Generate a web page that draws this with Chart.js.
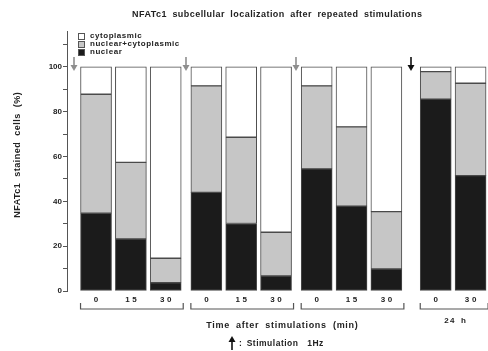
<!DOCTYPE html>
<html>
<head>
<meta charset="utf-8">
<script src="https://cdn.jsdelivr.net/npm/chart.js@4.4.0/dist/chart.umd.min.js"></script>
<style>
  html, body { margin: 0; padding: 0; background: #fff; }
</style>
</head>
<body>
<canvas id="myCanvas" width="488" height="351"></canvas>
<script>
// values (% of stained cells)
const timeLabels = ["0", "15", "30", "0", "15", "30", "0", "15", "30", "0", "30"];
const groupOf = [0, 0, 0, 1, 1, 1, 2, 2, 2, 3, 3];
const groupCaptions = ["", "", "", "24 h"];
const nuclear = [34.7, 23.2, 3.7, 44.0, 30.1, 6.7, 54.5, 37.9, 9.8, 85.6, 51.5];
const nuclearCyto = [53.1, 34.2, 10.9, 47.5, 38.5, 19.5, 37.0, 35.3, 25.6, 12.3, 41.2];
const cytoplasmic = [12.2, 42.6, 85.4, 8.5, 31.4, 73.8, 8.5, 26.8, 64.6, 2.1, 7.3];
const yTickLabels = [0, 20, 40, 60, 80, 100];

// spacing of bars on a fine category grid (layout only)
const LEAD = 10, STEP = 12, GROUP_STEP = [14, 14, 17], TRAIL = 6;

const FONT = "'Liberation Sans', Arial, sans-serif";
const GRAY = "#c6c6c6";
const BLACK = "#1b1b1b";
const EDGE = "#4a4a4a";

// place each bar on its slot
const slotOf = [];
timeLabels.forEach((t, i) => {
  if (i === 0) slotOf.push(LEAD);
  else if (groupOf[i] !== groupOf[i - 1]) slotOf.push(slotOf[i - 1] + GROUP_STEP[groupOf[i] - 1]);
  else slotOf.push(slotOf[i - 1] + STEP);
});
const nSlots = slotOf[slotOf.length - 1] + TRAIL + 1;
const slotLabels = new Array(nSlots).fill("");
slotOf.forEach((s, i) => { slotLabels[s] = timeLabels[i]; });

function spread(values) {
  const out = new Array(nSlots).fill(null);
  slotOf.forEach((s, i) => { out[s] = values[i]; });
  return out;
}

function text(ctx, str, x, y, opt) {
  ctx.save();
  ctx.font = opt.font;
  ctx.fillStyle = opt.color || "#111";
  ctx.textAlign = opt.align || "left";
  ctx.textBaseline = "middle";
  ctx.letterSpacing = (opt.ls || 0) + "px";
  if ("wordSpacing" in ctx) ctx.wordSpacing = (opt.ws || 0) + "px";
  let dx = 0;
  if (opt.align === "center") dx = (opt.ls || 0) / 2;
  if (opt.rotate) {
    ctx.translate(x, y);
    ctx.rotate(opt.rotate);
    ctx.fillText(str, dx, 0);
  } else {
    ctx.fillText(str, x + dx, y);
  }
  ctx.restore();
}

function arrow(ctx, x, yFrom, yTip, color) {
  const dir = yTip > yFrom ? 1 : -1;
  ctx.save();
  ctx.strokeStyle = color;
  ctx.fillStyle = color;
  ctx.lineWidth = 1.6;
  ctx.beginPath();
  ctx.moveTo(x, yFrom);
  ctx.lineTo(x, yTip - dir * 5);
  ctx.stroke();
  ctx.beginPath();
  ctx.moveTo(x - 3.5, yTip - dir * 6);
  ctx.lineTo(x + 3.5, yTip - dir * 6);
  ctx.lineTo(x, yTip);
  ctx.closePath();
  ctx.fill();
  ctx.restore();
}

const decorations = {
  id: "decorations",
  afterDraw(chart) {
    const ctx = chart.ctx;
    const area = chart.chartArea;
    const xs = chart.scales.x;
    const half = 15.5;

    // title
    text(ctx, "NFATc1 subcellular localization after repeated stimulations",
      277, 15,
      { font: "bold 9px " + FONT, align: "center", ls: 0.45, ws: 2.5, color: "#222" });

    // y axis title
    text(ctx, "NFATc1 stained cells (%)", 18, 155,
      { font: "bold 9px " + FONT, align: "center", ls: 0.5, ws: 3, color: "#222", rotate: -Math.PI / 2 });

    // legend
    const legend = [["cytoplasmic", "#ffffff"], ["nuclear+cytoplasmic", GRAY], ["nuclear", BLACK]];
    legend.forEach((item, k) => {
      const cy = 36 + k * 8;
      ctx.save();
      ctx.fillStyle = item[1];
      ctx.fillRect(78, cy - 3, 6, 6);
      ctx.strokeStyle = "#555";
      ctx.lineWidth = 1;
      ctx.strokeRect(78.5, cy - 2.5, 6, 6);
      ctx.restore();
      text(ctx, item[0], 90, cy, { font: "bold 8px " + FONT, ls: 0.55, color: "#222" });
    });

    // x labels, brackets, arrows
    const groups = [...new Set(groupOf)];
    groups.forEach(g => {
      const idx = groupOf.map((v, i) => v === g ? i : -1).filter(i => i >= 0);
      const first = idx[0], last = idx[idx.length - 1];
      const left = xs.getPixelForValue(slotOf[first]) - half;
      const right = xs.getPixelForValue(slotOf[last]) + half + 2;

      const prevRight = g === 0 ? area.left : xs.getPixelForValue(slotOf[first - 1]) + half;
      const ax = Math.round((prevRight + left) / 2);
      arrow(ctx, ax, area.top + 26, area.top + 40, g === groups.length - 1 ? "#111" : "#8e8e8e");

      ctx.save();
      ctx.strokeStyle = "#555";
      ctx.lineWidth = 1.2;
      ctx.beginPath();
      ctx.moveTo(left, area.bottom + 12);
      ctx.lineTo(left, area.bottom + 18);
      ctx.lineTo(right, area.bottom + 18);
      ctx.lineTo(right, area.bottom + 12);
      ctx.stroke();
      ctx.restore();

      if (groupCaptions[g]) {
        text(ctx, groupCaptions[g], (left + right) / 2 + 1, area.bottom + 30,
          { font: "bold 8px " + FONT, align: "center", ls: 1.2, ws: 2, color: "#222" });
      }
    });

    timeLabels.forEach((t, i) => {
      text(ctx, t, xs.getPixelForValue(slotOf[i]), area.bottom + 9,
        { font: "bold 8px " + FONT, align: "center", ls: 2.6, color: "#222" });
    });

    text(ctx, "Time after stimulations (min)", 282, 326,
      { font: "bold 9px " + FONT, align: "center", ls: 0.7, ws: 3, color: "#222" });

    arrow(ctx, 232, 350, 336, "#111");
    text(ctx, ": Stimulation  1Hz", 239, 344,
      { font: "bold 8.5px " + FONT, ls: 0.5, ws: 1.5, color: "#222" });
  }
};

const ctx = document.getElementById("myCanvas").getContext("2d");
const barStyle = { barThickness: 31, borderWidth: 1, borderColor: EDGE, borderSkipped: false };

new Chart(ctx, {
  type: "bar",
  data: {
    labels: slotLabels,
    datasets: [
      { label: "nuclear", data: spread(nuclear), backgroundColor: BLACK, ...barStyle },
      { label: "nuclear+cytoplasmic", data: spread(nuclearCyto), backgroundColor: GRAY, ...barStyle },
      { label: "cytoplasmic", data: spread(cytoplasmic), backgroundColor: "#ffffff", ...barStyle }
    ]
  },
  options: {
    responsive: false,
    animation: false,
    devicePixelRatio: 1,
    layout: { padding: { top: 31, left: 0, right: 0, bottom: 0 } },
    plugins: {
      legend: { display: false },
      title: { display: false },
      tooltip: { enabled: false }
    },
    scales: {
      x: {
        stacked: true,
        offset: false,
        grid: { display: false },
        border: { display: false },
        ticks: { display: false },
        afterFit: s => { s.height = 60; }
      },
      y: {
        stacked: true,
        min: 0,
        max: 116,
        afterFit: s => { s.width = 67; },
        border: { display: true, color: "#555", width: 1 },
        grid: { drawOnChartArea: false, tickLength: 4, color: "#555" },
        ticks: {
          stepSize: 10,
          includeBounds: false,
          padding: 1,
          color: "#222",
          font: { family: FONT, size: 8, weight: "bold" },
          callback: v => yTickLabels.includes(v) ? String(v) : ""
        }
      }
    }
  },
  plugins: [decorations]
});
</script>
</body>
</html>
